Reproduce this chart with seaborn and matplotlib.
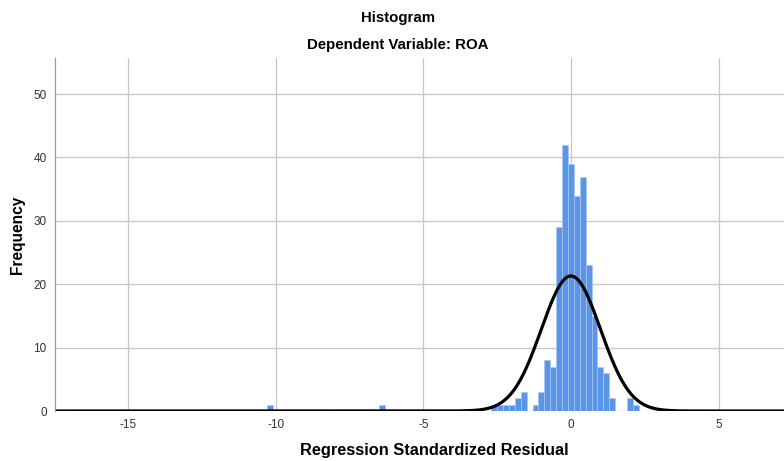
import numpy as np
import pandas as pd
import matplotlib
matplotlib.use("Agg")
import matplotlib.pyplot as plt
import seaborn as sns

# =============================================================================
# Data (bin centres, bin width 0.2)
# =============================================================================
bin_centers = [-10.2, -6.4, -2.6, -2.4, -2.2, -2.0, -1.8, -1.6, -1.2, -1.0,
               -0.8, -0.6, -0.4, -0.2, 0.0, 0.2, 0.4, 0.6, 0.8, 1.0,
               1.2, 1.4, 2.0, 2.2]
counts = [1, 1, 1, 1, 1, 1, 2, 3, 1, 3,
          8, 7, 29, 42, 39, 34, 37, 23, 15, 7,
          6, 2, 2, 1]
bin_width = 0.2
x_ticks = [-15, -10, -5, 0, 5]
y_ticks = [0, 10, 20, 30, 40, 50]

# normal curve parameters (standardized residuals)
curve_mean = 0.0
curve_std = 1.0
n_total = sum(counts)

hist_df = pd.DataFrame({'resid': bin_centers, 'freq': counts})

# =============================================================================
# Plot
# =============================================================================
sns.set_style('white')
plt.rcParams['font.family'] = ['Liberation Sans', 'DejaVu Sans']
plt.rcParams['axes.unicode_minus'] = False

W, H = 784, 461
fig = plt.figure(figsize=(W / 100, H / 100), dpi=100)
left, right, top, bottom = 55, 793, 58, 411
ax = fig.add_axes([left / W, 1 - bottom / H, (right - left) / W, (bottom - top) / H])

xmin, xmax = -17.47, 7.52
edges = [round(e, 1) for e in np.arange(-17.5, 7.6, bin_width)]

ax.set_axisbelow(True)
ax.grid(True, color='#c6c6c6', linewidth=0.9)

sns.histplot(data=hist_df, x='resid', weights='freq', bins=edges, ax=ax,
             color='#5b95e8', alpha=1.0, edgecolor='#a9c7ef', linewidth=0.5)

xs = np.linspace(xmin, xmax, 800)
ys = n_total * bin_width * np.exp(-0.5 * ((xs - curve_mean) / curve_std) ** 2) / (curve_std * np.sqrt(2 * np.pi))
ax.plot(xs, ys, color='black', linewidth=2.3, solid_capstyle='butt')

ax.set_xlim(xmin, xmax)
ax.set_ylim(0, 55.7)
ax.set_xticks(x_ticks)
ax.set_yticks(y_ticks)
ax.tick_params(length=0, labelsize=8.5, labelcolor='#333333', pad=6)
ax.set_xlabel('')
ax.set_ylabel('')

for s in ['top', 'right', 'bottom']:
    ax.spines[s].set_visible(False)
ax.spines['left'].set_color('#999999')
ax.spines['left'].set_linewidth(0.9)

fig.text(398 / W, 1 - 18 / H, 'Histogram', ha='center', va='center',
         fontsize=10.8, fontweight='bold', color='black')
fig.text(398 / W, 1 - 45 / H, 'Dependent Variable: ROA', ha='center', va='center',
         fontsize=10.8, fontweight='bold', color='black')
fig.text(434 / W, 1 - 450 / H, 'Regression Standardized Residual', ha='center', va='center',
         fontsize=11.8, fontweight='bold', color='black')
fig.text(18 / W, 1 - 235 / H, 'Frequency', ha='center', va='center', rotation=90,
         fontsize=11.2, fontweight='bold', color='black')

fig.savefig('out.png', dpi=100)
